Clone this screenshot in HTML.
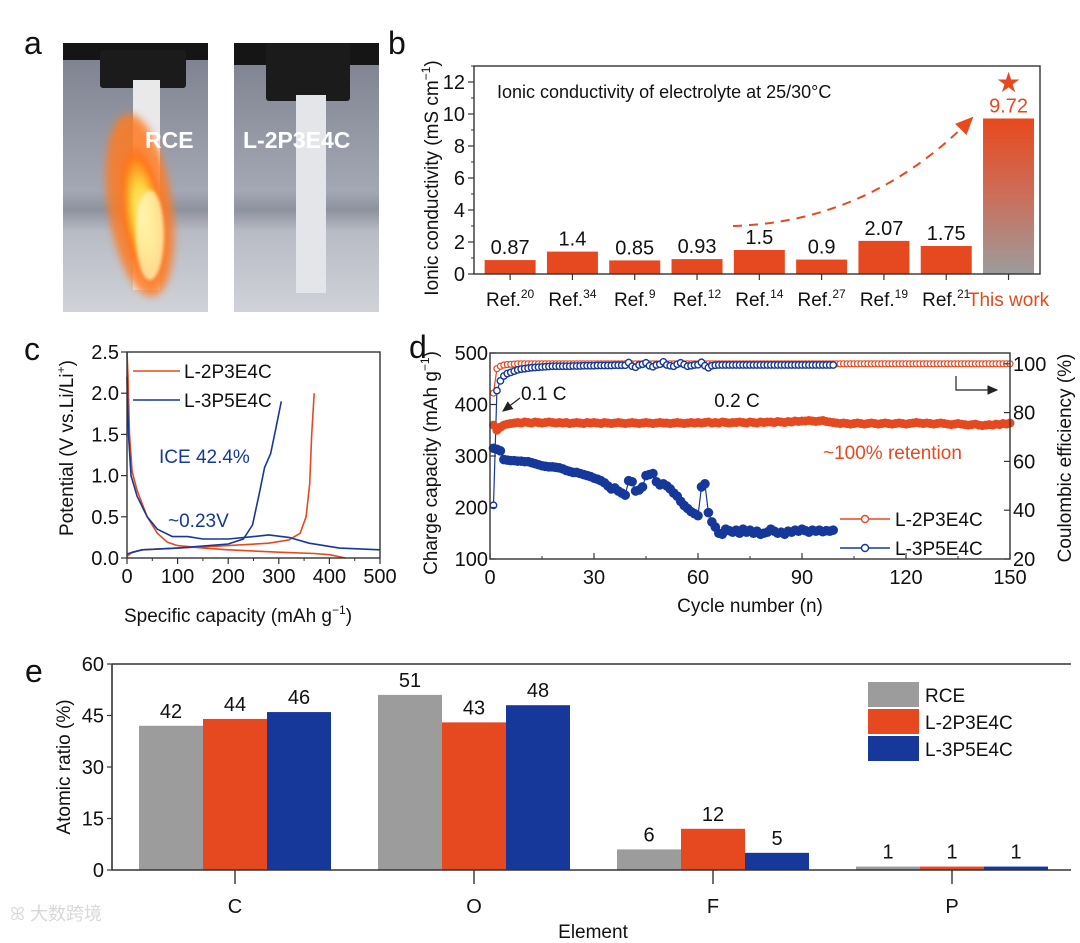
<!DOCTYPE html>
<html><head><meta charset="utf-8"><style>
html,body{margin:0;padding:0;background:#fff;}
svg{display:block;font-family:"Liberation Sans",Arial,sans-serif;}
</style></head><body>
<svg id="fig" width="1080" height="943" viewBox="0 0 1080 943" xmlns="http://www.w3.org/2000/svg">
<defs>
<linearGradient id="bg1" x1="0" y1="0" x2="0" y2="1"><stop offset="0" stop-color="#7b7f8d"/><stop offset="0.55" stop-color="#a4a8b4"/><stop offset="0.62" stop-color="#8e929e"/><stop offset="0.7" stop-color="#b8bbc4"/><stop offset="1" stop-color="#d0d2d8"/></linearGradient>
<linearGradient id="tw" x1="0" y1="0" x2="0" y2="1"><stop offset="0" stop-color="#e8491d"/><stop offset="0.45" stop-color="#cf6a55"/><stop offset="1" stop-color="#9c9c9c"/></linearGradient>
<radialGradient id="fl" cx="0.5" cy="0.5" r="0.5"><stop offset="0" stop-color="#fff6a0"/><stop offset="0.45" stop-color="#ffd23a"/><stop offset="0.8" stop-color="#ff7a1a"/><stop offset="1" stop-color="#ff6a1a" stop-opacity="0"/></radialGradient>
<filter id="bl"><feGaussianBlur stdDeviation="4"/></filter>
<filter id="bl2"><feGaussianBlur stdDeviation="1.5"/></filter>
<marker id="ah" markerWidth="10" markerHeight="10" refX="8" refY="5" orient="auto"><path d="M0,1 L9,5 L0,9 z" fill="#e8491d"/></marker>
<marker id="ahk" markerWidth="10" markerHeight="10" refX="8" refY="5" orient="auto"><path d="M0,1 L9,5 L0,9 z" fill="#222"/></marker>
</defs>

<g>
<text x="24" y="54" font-size="32" fill="#111">a</text>
<g>
<rect x="63" y="43" width="145" height="269" fill="url(#bg1)"/>
<rect x="63" y="43" width="145" height="17" fill="#151515"/>
<rect x="100" y="50" width="86" height="38" fill="#1b1b1b" rx="3"/>
<rect x="133" y="80" width="27" height="210" fill="#e9e9ea"/>
<ellipse cx="140" cy="205" rx="32" ry="92" fill="#ff7a22" opacity="0.85" filter="url(#bl)" transform="rotate(-8 140 205)"/>
<ellipse cx="143" cy="215" rx="22" ry="72" fill="url(#fl)" filter="url(#bl2)" transform="rotate(-8 143 215)"/>
<ellipse cx="150" cy="235" rx="14" ry="45" fill="#fff3b0" opacity="0.8" filter="url(#bl2)"/>
<text x="145" y="148" font-size="23" font-weight="bold" fill="#fff">RCE</text>
</g>
<g>
<rect x="234" y="43" width="145" height="269" fill="url(#bg1)"/>
<rect x="234" y="43" width="145" height="22" fill="#151515"/>
<rect x="266" y="43" width="84" height="58" fill="#1b1b1b" rx="3"/>
<rect x="296" y="95" width="30" height="198" fill="#e4e5e8"/>
<text x="243" y="148" font-size="23" font-weight="bold" fill="#fff">L-2P3E4C</text>
</g>
</g>

<g id="pb"></g>
<g id="pc"></g>
<g id="pd"></g>
<g id="pe"></g>
<text x="10" y="920" font-size="18" fill="#d8d8d8" font-family="'Liberation Sans','Noto Sans CJK SC',sans-serif">ꕤ 大数跨境</text>
</svg>
<script>
const bCats = ["20","34","9","12","14","27","19","21","This work"];
const bVals = [0.87,1.4,0.85,0.93,1.5,0.9,2.07,1.75,9.72];
const bTicks = [0,2,4,6,8,10,12];
const cRedDis = [[0,2.5],[2,2.2],[5,1.5],[10,1.05],[20,0.82],[40,0.5],[60,0.3],[80,0.19],[100,0.15],[150,0.12],[200,0.1],[300,0.07],[370,0.055],[400,0.04],[432,0.0]];
const cRedChg = [[0,0.02],[10,0.07],[30,0.1],[100,0.12],[200,0.15],[280,0.18],[320,0.22],[342,0.3],[354,0.5],[361,0.9],[365,1.5],[370,2.0]];
const cBlueDis = [[0,2.2],[3,1.5],[8,1.0],[20,0.75],[40,0.5],[60,0.35],[90,0.26],[120,0.26],[150,0.23],[200,0.23],[250,0.26],[280,0.28],[320,0.25],[360,0.18],[420,0.12],[500,0.1]];
const cBlueChg = [[0,0.05],[30,0.1],[100,0.12],[200,0.17],[230,0.23],[248,0.4],[262,0.8],[272,1.1],[284,1.27],[295,1.6],[305,1.9]];
const cXTicks = [0,100,200,300,400,500];
const cYTicks = [0,0.5,1.0,1.5,2.0,2.5];
const redCap = [360,350,356,360,362,363,364,365,364,366,
365,364,366,365,364,365,366,365,364,365,
364,365,363,364,365,364,363,365,364,365,
364,363,365,364,363,364,365,364,363,364,
365,364,363,364,365,364,363,364,365,364,
364,363,364,365,364,363,364,365,364,365,
364,365,366,364,365,364,366,365,364,365,
365,366,365,364,366,365,364,366,365,366,
366,365,367,366,365,367,366,368,367,368,
368,369,368,367,368,369,367,366,365,364,
363,364,363,362,363,364,363,362,363,364,
363,362,363,364,363,362,363,364,363,362,
363,364,365,364,363,364,363,362,363,364,
363,362,361,362,363,362,361,360,361,362,
360,359,360,361,360,362,361,363,362,364];
const redCE = [88,98,99,99.5,99.7,99.8,99.9,100,100,100,
100,100,100,100,100,100,100,100,100,100,
100,100,100,100,100,100,100,100,100,100,
100,100,100,100,100,100,100,100,100,100,
100,100,100,100,100,100,100,100,100,100,
100,100,100,100,100,100,100,100,100,100,
100,100,100,100,100,100,100,100,100,100,
100,100,100,100,100,100,100,100,100,100,
100,100,100,100,100,100,100,100,100,100,
100,100,100,100,100,100,100,100,100,100,
100,100,100,100,100,100,100,100,100,100,
100,100,100,100,100,100,100,100,100,100,
100,100,100,100,100,100,100,100,100,100,
100,100,100,100,100,100,100,100,100,100,
100,100,100,100,100,100,100,100,100,100];
const blueCap = [315,313,310,293,292,291,291,290,290,289,
289,287,285,283,281,280,279,279,278,277,
275,272,270,268,268,266,264,262,260,257,
255,252,248,242,236,238,232,228,224,252,
250,232,234,240,262,264,266,250,244,246,
242,236,228,222,212,204,198,192,188,184,
240,246,190,172,162,150,148,158,155,152,
156,150,158,152,156,150,154,148,150,152,
158,154,150,152,148,154,152,156,154,158,
155,152,156,154,156,153,155,154,156];
const blueCE = [42,89,93,95,96,96.5,97,97.5,97.8,98,
98.2,98.4,98.5,98.6,98.7,98.8,98.9,99,99,99,
99,99,99,99.1,99.1,99.1,99.2,99.2,99.2,99.2,
99.3,99.3,99.3,99.3,99.3,99.4,99.4,99.4,99.4,100.5,
99,98.6,99.5,99.8,100.4,99.2,98.8,99.5,99.8,100.8,
99.5,99.2,99,99.8,100.4,99.7,99,99.2,99.5,99.6,
100.6,99.2,98.4,99.2,99.4,99.5,99.5,99.5,99.5,99.5,
99.5,99.5,99.5,99.5,99.5,99.5,99.5,99.5,99.5,99.5,
99.5,99.5,99.5,99.5,99.5,99.5,99.5,99.5,99.5,99.5,
99.5,99.5,99.5,99.5,99.5,99.5,99.5,99.5,99.5];
const dXTicks = [0,30,60,90,120,150];
const dLTicks = [100,200,300,400,500];
const dRTicks = [20,40,60,80,100];
const eCats = ["C","O","F","P"];
const eSeries = ["RCE","L-2P3E4C","L-3P5E4C"];
const eRCE = [42,51,6,1];
const eL2 = [44,43,12,1];
const eL3 = [46,48,5,1];
const eTicks = [0,15,30,45,60];

const NS="http://www.w3.org/2000/svg";
const RED="#e6491f", BLUE="#15389a", GRAY="#9c9c9c", AX="#333";
function mk(tag, attrs, parent){const e=document.createElementNS(NS,tag);for(const k in attrs)e.setAttribute(k,attrs[k]);parent.appendChild(e);return e;}
function txt(s,x,y,size,parent,anchor,fill){const t=mk('text',{x:x,y:y,'font-size':size,'text-anchor':anchor||'start',fill:fill||'#111'},parent);t.textContent=s;return t;}
function poly(pts,fx,fy){return pts.map((p,i)=>(i?'L':'M')+fx(p[0]).toFixed(1)+','+fy(p[1]).toFixed(1)).join(' ');}

(function(){
const g=document.getElementById('pb');
const L=474,R=1040,T=66,B=274;
const xb=i=>L+(i+0.58)*62.3, yb=v=>B-v*16;
let t=txt('b',388,54,32,g);

bVals.forEach((v,i)=>{
  const r=mk('rect',{x:xb(i)-25.5,y:yb(v),width:51,height:B-yb(v),fill:i===8?'url(#tw)':RED},g);
  
  
  const lb=txt(String(v),xb(i),yb(v)-6,20,g,'middle',i===8?RED:'#111');
  
  
  mk('line',{x1:xb(i),x2:xb(i),y1:B,y2:B+6,stroke:AX,'stroke-width':1.2},g);
  const xl=mk('text',{x:xb(i),y:306,'font-size':19,'text-anchor':'middle',fill:i===8?RED:'#111'},g);
  
  
  if(i===8){xl.textContent='This work';}
  else{xl.textContent='Ref.';const s=mk('tspan',{'font-size':12,dy:-8},xl);s.textContent=bCats[i];}
});
const fr=mk('rect',{x:L,y:T,width:R-L,height:B-T,fill:'none',stroke:AX,'stroke-width':1.4},g);

bTicks.forEach(v=>{mk('line',{x1:L,x2:L-6,y1:yb(v),y2:yb(v),stroke:AX,'stroke-width':1.2},g);
  const l=txt(String(v),L-9,yb(v)+7,20,g,'end');
  
  mk('line',{x1:L,x2:L-3,y1:yb(v+1),y2:yb(v+1),stroke:AX,'stroke-width':1},g);});
const yt=mk('text',{x:0,y:0,'font-size':19,'text-anchor':'middle',fill:'#111',transform:'translate(438,178) rotate(-90)'},g);
yt.textContent='Ionic conductivity (mS cm';const s2=mk('tspan',{'font-size':12,dy:-8},yt);s2.textContent='−1';const s3=mk('tspan',{dy:8},yt);s3.textContent=')';

const ti=txt('Ionic conductivity of electrolyte at 25/30°C',497,98,18,g);

const st=txt('★',xb(8),92,28,g,'middle',RED);

const ar=mk('path',{d:'M733,226 Q870,222 972,118',fill:'none',stroke:RED,'stroke-width':2,'stroke-dasharray':'9,7','marker-end':'url(#ah)'},g);

})();

(function(){
const g=document.getElementById('pc');
const L=127,R=380,T=352,B=558;
const xc=v=>L+v*(R-L)/500, yc=v=>B-v*(B-T)/2.5;
let t=txt('c',24,360,32,g);
[[cRedDis,RED,'l-2p3e4c-discharge'],[cRedChg,RED,'l-2p3e4c-charge'],[cBlueDis,BLUE,'l-3p5e4c-discharge'],[cBlueChg,BLUE,'l-3p5e4c-charge']].forEach(s=>{
  const p=mk('path',{d:poly(s[0],xc,yc),fill:'none',stroke:s[1],'stroke-width':1.6,'stroke-linejoin':'round'},g);
  
});
const fr=mk('rect',{x:L,y:T,width:R-L,height:B-T,fill:'none',stroke:AX,'stroke-width':1.4},g);

cXTicks.forEach(v=>{mk('line',{x1:xc(v),x2:xc(v),y1:B,y2:B+6,stroke:AX,'stroke-width':1.2},g);
  const l=txt(String(v),xc(v),583,20,g,'middle');
  if(v<500)mk('line',{x1:xc(v+50),x2:xc(v+50),y1:B,y2:B+3,stroke:AX,'stroke-width':1},g);});
cYTicks.forEach(v=>{mk('line',{x1:L,x2:L-6,y1:yc(v),y2:yc(v),stroke:AX,'stroke-width':1.2},g);
  const l=txt(v.toFixed(1),L-8,yc(v)+7,20,g,'end');});
const xt=mk('text',{x:238,y:622,'font-size':19,'text-anchor':'middle',fill:'#111'},g);
xt.textContent='Specific capacity (mAh g';let s=mk('tspan',{'font-size':12,dy:-8},xt);s.textContent='−1';s=mk('tspan',{dy:8},xt);s.textContent=')';

const yt=mk('text',{x:0,y:0,'font-size':19,'text-anchor':'middle',fill:'#111',transform:'translate(73,448) rotate(-90)'},g);
yt.textContent='Potential (V vs.Li/Li';s=mk('tspan',{'font-size':12,dy:-8},yt);s.textContent='+';s=mk('tspan',{dy:8},yt);s.textContent=')';

[[RED,'L-2P3E4C',371],[BLUE,'L-3P5E4C',400]].forEach(e=>{
  const lg=mk('g',{},g);
  mk('line',{x1:133,x2:180,y1:e[2],y2:e[2],stroke:e[0],'stroke-width':1.6},lg);
  txt(e[1],184,e[2]+7,19,lg);
});
let a=txt('ICE 42.4%',159,463,19,g,'start',BLUE);
a=txt('~0.23V',168,527,19,g,'start',BLUE);
})();

(function(){
const g=document.getElementById('pd');
const L=490,R=1010,T=353,B=559;
const xd=n=>L+n*(R-L)/150, yL=v=>B-(v-100)*(B-T)/400, yR=v=>B-(v-20)*2.44;
let t=txt('d',409,358,32,g);
function line(arr,fy,col,name){const p=mk('path',{d:poly(arr.map((v,i)=>[i+1,v]),xd,fy),fill:'none',stroke:col,'stroke-width':1.2},g);
  }
line(redCap,yL,RED,'l-2p3e4c-capacity-line');line(blueCap,yL,BLUE,'l-3p5e4c-capacity-line');
line(redCE,yR,RED,'l-2p3e4c-ce-line');line(blueCE,yR,BLUE,'l-3p5e4c-ce-line');
redCap.forEach((v,i)=>{const c=mk('circle',{cx:xd(i+1),cy:yL(v),r:4.5,fill:RED},g);
  });
blueCap.forEach((v,i)=>{const c=mk('circle',{cx:xd(i+1),cy:yL(v),r:4.8,fill:BLUE},g);
  });
redCE.forEach((v,i)=>{const c=mk('circle',{cx:xd(i+1),cy:yR(v),r:3,fill:'#fff',stroke:RED,'stroke-width':1.2},g);
  });
blueCE.forEach((v,i)=>{const c=mk('circle',{cx:xd(i+1),cy:yR(v),r:3.2,fill:'#fff',stroke:BLUE,'stroke-width':1.4},g);
  });
const fr=mk('rect',{x:L,y:T,width:R-L,height:B-T,fill:'none',stroke:AX,'stroke-width':1.4},g);

dXTicks.forEach(v=>{mk('line',{x1:xd(v),x2:xd(v),y1:B,y2:B-6,stroke:AX,'stroke-width':1.2},g);
  if(v<150)mk('line',{x1:xd(v+15),x2:xd(v+15),y1:B,y2:B-3,stroke:AX,'stroke-width':1},g);
  const l=txt(String(v),xd(v),584,20,g,'middle');});
dLTicks.forEach(v=>{mk('line',{x1:L,x2:L+6,y1:yL(v),y2:yL(v),stroke:AX,'stroke-width':1.2},g);
  const l=txt(String(v),L-2,yL(v)+7,20,g,'end');});
dRTicks.forEach(v=>{mk('line',{x1:R,x2:R-6,y1:yR(v),y2:yR(v),stroke:AX,'stroke-width':1.2},g);
  const l=txt(String(v),R+3,yR(v)+7,20,g,'start');});
const xt=txt('Cycle number (n)',750,612,19,g,'middle');
const yt=mk('text',{x:0,y:0,'font-size':19,'text-anchor':'middle',fill:'#111',transform:'translate(437,463) rotate(-90)'},g);
yt.textContent='Charge capacity (mAh g';let s=mk('tspan',{'font-size':12,dy:-8},yt);s.textContent='−1';s=mk('tspan',{dy:8},yt);s.textContent=')';

const yt2=mk('text',{x:0,y:0,'font-size':19,'text-anchor':'middle',fill:'#111',transform:'translate(1071,458) rotate(-90)'},g);
yt2.textContent='Coulombic efficiency (%)';
[[RED,'L-2P3E4C',519],[BLUE,'L-3P5E4C',548]].forEach(e=>{
  const lg=mk('g',{},g);
  mk('line',{x1:840,x2:890,y1:e[2],y2:e[2],stroke:e[0],'stroke-width':1.4},lg);
  mk('circle',{cx:865,cy:e[2],r:3.5,fill:'#fff',stroke:e[0],'stroke-width':1.4},lg);
  txt(e[1],895,e[2]+7,19,lg);
});
let a=txt('0.1 C',521,400,19,g);
a=mk('line',{x1:520,y1:398,x2:503,y2:411,stroke:'#222','stroke-width':1.2,'marker-end':'url(#ahk)'},g);
a=txt('0.2 C',737,407,19,g,'middle');
a=txt('~100% retention',823,459,19,g,'start',RED);
a=mk('path',{d:'M956,376 L956,390 L997,390',fill:'none',stroke:'#222','stroke-width':1.2,'marker-end':'url(#ahk)'},g);
})();

(function(){
const g=document.getElementById('pe');
const L=112,R=1071,T=664,B=870;
const ye=v=>B-v*(B-T)/60, xe=(gi,si)=>235+gi*239+(si-1)*64;
let t=txt('e',25,682,32,g);
const cols=[GRAY,RED,BLUE];
[eRCE,eL2,eL3].forEach((arr,si)=>{
  arr.forEach((v,gi)=>{
    const r=mk('rect',{x:xe(gi,si)-32,y:ye(v),width:64,height:B-ye(v),fill:cols[si]},g);
    
    
    const l=txt(String(v),xe(gi,si),ye(v)-8,20,g,'middle');
    
    
  });
});
const ax=mk('path',{d:`M${L},${T} L${R},${T} M${L},${T} L${L},${B} L${R},${B}`,fill:'none',stroke:AX,'stroke-width':1.6},g);

eTicks.forEach(v=>{mk('line',{x1:L,x2:L-5,y1:ye(v),y2:ye(v),stroke:AX,'stroke-width':1.2},g);
  const l=txt(String(v),L-8,ye(v)+7,20,g,'end');});
eCats.forEach((c,gi)=>{mk('line',{x1:xe(gi,1),x2:xe(gi,1),y1:B,y2:B+14,stroke:AX,'stroke-width':1.4},g);
  const l=txt(c,xe(gi,1),913,20,g,'middle');});
const xt=txt('Element',593,938,19,g,'middle');
const yt=mk('text',{x:0,y:0,'font-size':19,'text-anchor':'middle',fill:'#111',transform:'translate(70,767) rotate(-90)'},g);
yt.textContent='Atomic ratio (%)';
eSeries.forEach((s,si)=>{
  const lg=mk('g',{},g);
  mk('rect',{x:868,y:682+si*27,width:51,height:25,fill:cols[si]},lg);
  txt(s,925,702+si*27,19,lg);
});
})();
</script>
</body></html>
